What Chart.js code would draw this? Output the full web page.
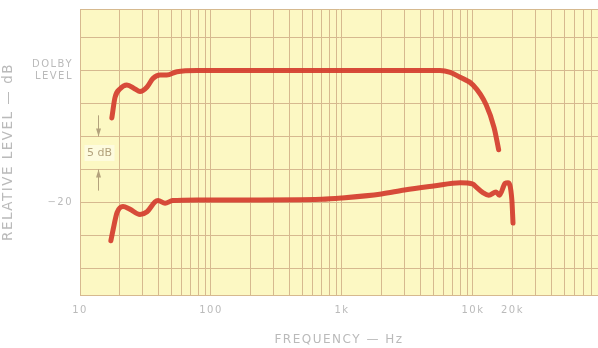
<!DOCTYPE html>
<html>
<head>
<meta charset="utf-8">
<script src="https://cdn.jsdelivr.net/npm/chart.js@4"></script>
<style>
  html, body { margin: 0; padding: 0; background: #fff; }
  canvas { display: block; }
</style>
</head>
<body>
<canvas id="chart" width="598" height="348"></canvas>
<script>
// curve at Dolby level
const upperFreq = [17.5, 18.5, 20.2, 22.8, 26.3, 28.7, 32.5, 36.1, 40.8, 46, 55, 78, 200, 1000, 5000, 5600, 6700, 7900, 10000, 12600, 14500, 15700]
const upperLevel = [-7.2, -4.1, -2.8, -2.2, -2.8, -3.2, -2.5, -1.2, -0.7, -0.7, -0.2, 0, 0, 0, 0, 0, -0.3, -1.0, -2.2, -5.2, -8.7, -12.0]

// curve at -20 dB
const lowerFreq = [17.2, 17.9, 19.2, 21.3, 24, 28.7, 32.5, 37.4, 39.4, 44.6, 51, 78, 200, 700, 1000, 2000, 3000, 5000, 8000, 10000, 10500, 11900, 13200, 15000, 15900, 17600, 18500, 19800, 20200]
const lowerLevel = [-25.8, -24.1, -21.5, -20.6, -21.0, -21.8, -21.4, -19.9, -19.7, -20.1, -19.7, -19.6, -19.6, -19.5, -19.3, -18.7, -18.1, -17.5, -17.0, -17.2, -17.6, -18.5, -18.9, -18.4, -18.9, -17.1, -17.0, -19.6, -23.1]

// axis labels
const xLabelValues = [10, 100, 1000, 10000, 20000]
const xLabelTexts = ['10', '100', '1k', '10k', '20k']
const yLabelValues = [0, -20]
const yLabelTexts = [['DOLBY', 'LEVEL'], '\u221220']
const yGridValues = [-30, -25, -20, -15, -10, -5, 0, 5]

const X_MIN = 10
const X_MAX = 90000
const Y_MIN = -34
const Y_MAX = 9.3

const gridColor = '#d6b98f'
const labelColor = '#bababa'
const curveColor = 'rgba(212, 60, 46, 0.92)'

// log paper lines: 1..9 in every decade
const xGridValues = []
for (let d = 10; d < X_MAX; d *= 10) {
  for (let m = 1; m <= 9; m++) {
    if (d * m <= X_MAX) xGridValues.push(d * m)
  }
}

const toPoints = (xs, ys) => xs.map((f, i) => ({ x: f, y: ys[i] }))

// yellow chart paper
const paperBg = {
  id: 'paperBg',
  beforeDraw(chart) {
    const { ctx, chartArea: a } = chart
    ctx.save()
    ctx.fillStyle = '#fcf8c3'
    ctx.fillRect(a.left, a.top, a.right - a.left, a.bottom - a.top)
    ctx.restore()
    ctx.letterSpacing = '1.5px'
  },
}

// "5 dB" marker with arrows
const fiveDbNote = {
  id: 'fiveDbNote',
  afterDatasetsDraw(chart) {
    const { ctx, scales: { x, y } } = chart
    const px = Math.round(x.getPixelForValue(13.7)) + 0.5
    const col = '#b3a27c'
    const arrow = (from, to) => {
      const y0 = y.getPixelForValue(from)
      const y1 = y.getPixelForValue(to)
      const dir = y1 > y0 ? 1 : -1
      ctx.beginPath()
      ctx.moveTo(px, y0)
      ctx.lineTo(px, y1)
      ctx.stroke()
      ctx.beginPath()
      ctx.moveTo(px, y1)
      ctx.lineTo(px - 2.5, y1 - dir * 8)
      ctx.lineTo(px + 2.5, y1 - dir * 8)
      ctx.closePath()
      ctx.fill()
    }
    ctx.save()
    ctx.letterSpacing = '0px'
    ctx.strokeStyle = col
    ctx.fillStyle = col
    ctx.lineWidth = 1
    arrow(-6.8, -10)
    arrow(-18.2, -15)
    const ty = y.getPixelForValue(-12.5)
    ctx.fillStyle = 'rgba(253, 251, 225, 0.9)'
    ctx.fillRect(px - 14, ty - 8, 30, 16)
    ctx.fillStyle = col
    ctx.font = '11px "DejaVu Sans"'
    ctx.textAlign = 'center'
    ctx.textBaseline = 'middle'
    ctx.fillText('5 dB', px + 1, ty)
    ctx.restore()
  },
}

Chart.defaults.font.family = '"DejaVu Sans", sans-serif'

const chart = new Chart(document.getElementById('chart').getContext('2d'), {
  type: 'line',
  data: {
    datasets: [
      {
        label: 'Dolby level',
        data: toPoints(upperFreq, upperLevel),
        borderColor: curveColor,
        borderWidth: 5,
        borderCapStyle: 'round',
        pointRadius: 0,
        cubicInterpolationMode: 'monotone',
      },
      {
        label: '-20 dB',
        data: toPoints(lowerFreq, lowerLevel),
        borderColor: curveColor,
        borderWidth: 5,
        borderCapStyle: 'round',
        pointRadius: 0,
        cubicInterpolationMode: 'monotone',
      },
    ],
  },
  plugins: [paperBg, fiveDbNote],
  options: {
    responsive: false,
    animation: false,
    devicePixelRatio: 1,
    layout: { padding: { top: 9, right: 0, left: 0, bottom: 0 } },
    plugins: {
      legend: { display: false },
      tooltip: { enabled: false },
    },
    scales: {
      x: {
        type: 'logarithmic',
        min: X_MIN,
        max: X_MAX,
        afterBuildTicks: (scale) => {
          scale.ticks = xGridValues.map((v) => ({ value: v }))
        },
        afterFit: (scale) => {
          scale.height = 53
          scale.paddingLeft = 0
          scale.paddingRight = 0
        },
        grid: { color: gridColor, drawTicks: false },
        border: { color: gridColor },
        ticks: {
          autoSkip: false,
          maxRotation: 0,
          padding: 9,
          color: labelColor,
          font: { size: 10 },
          callback: (v) => {
            const i = xLabelValues.indexOf(v)
            return i < 0 ? '' : xLabelTexts[i]
          },
        },
        title: {
          display: true,
          text: 'FREQUENCY \u2014 Hz',
          color: labelColor,
          font: { size: 12 },
          padding: { top: 0, bottom: 1 },
        },
      },
      y: {
        min: Y_MIN,
        max: Y_MAX,
        afterBuildTicks: (scale) => {
          scale.ticks = [Y_MIN, ...yGridValues, Y_MAX].map((v) => ({ value: v }))
        },
        afterFit: (scale) => {
          scale.width = 80
          scale.paddingTop = 0
          scale.paddingBottom = 0
        },
        grid: { color: gridColor, drawTicks: false },
        border: { color: gridColor },
        ticks: {
          padding: 7,
          color: labelColor,
          font: { size: 10 },
          callback: (v) => {
            const i = yLabelValues.indexOf(v)
            return i < 0 ? '' : yLabelTexts[i]
          },
        },
        title: {
          display: true,
          text: 'RELATIVE LEVEL \u2014 dB',
          color: labelColor,
          font: { size: 13.5 },
          padding: { top: 0, bottom: 0 },
        },
      },
    },
  },
})
</script>
</body>
</html>
